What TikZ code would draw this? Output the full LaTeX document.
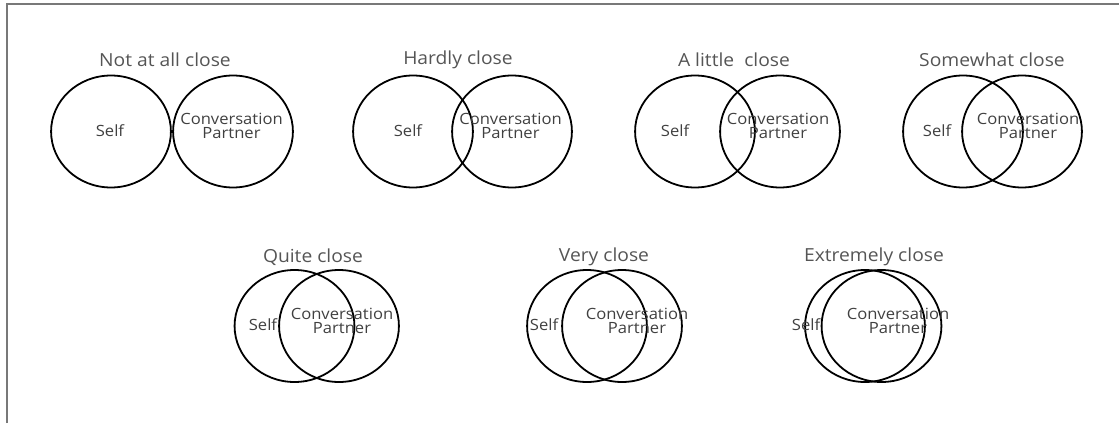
\documentclass[tikz,border=0pt]{standalone}
\usepackage{fontspec}
\setmainfont{Open Sans}
\usepackage{tikz}
\definecolor{labelgray}{RGB}{64,64,64}
\definecolor{titlegray}{RGB}{85,85,85}
\definecolor{framegray}{RGB}{120,120,120}

\begin{document}
\begin{tikzpicture}[x=1pt, y=-1pt,
    ring/.style={circle, draw=black, line width=1.8pt, minimum size=112pt, inner sep=0pt, xscale=1.07},
    lbl/.style={text=labelgray, font=\fontsize{15.5}{14.5}\selectfont, align=center, inner sep=0pt, xscale=1.07},
    ttl/.style={text=titlegray, font=\fontsize{18}{20}\selectfont, inner sep=0pt, xscale=1.07}]
    \useasboundingbox (0,0) rectangle (1119,423);

    % Frame (top and left edge only)
    \coordinate (fbot) at (7,423);
    \coordinate (fcorner) at (7,4);
    \coordinate (fright) at (1119,4);
    \draw[framegray, line width=1.2pt] (fbot) -- (fcorner) -- (fright);

    % Panel 1 (Not at all close)
    \node[ttl] (t1) at (165,60) {Not at all close};
    \node[ring] (s1) at (111,131.5) {};
    \node[ring] (p1) at (233,131.5) {};
    \node[lbl] (s1l) at (110,131) {Self};
    \node[lbl] (p1l) at (231.5,126) {Conversation\\Partner};

    % Panel 2 (Hardly close)
    \node[ttl] (t2) at (458,60) {Hardly close};
    \node[ring] (s2) at (413,131.5) {};
    \node[ring] (p2) at (512,131.5) {};
    \node[lbl] (s2l) at (408,131) {Self};
    \node[lbl] (p2l) at (510.5,126) {Conversation\\Partner};

    % Panel 3 (A little close)
    \node[ttl] (t3) at (734,60) {A little\ \ close};
    \node[ring] (s3) at (695,131.5) {};
    \node[ring] (p3) at (780,131.5) {};
    \node[lbl] (s3l) at (675,131) {Self};
    \node[lbl] (p3l) at (778,126) {Conversation\\Partner};

    % Panel 4 (Somewhat close)
    \node[ttl] (t4) at (992,60) {Somewhat close};
    \node[ring] (s4) at (963,131.5) {};
    \node[ring] (p4) at (1022,131.5) {};
    \node[lbl] (s4l) at (937,131) {Self};
    \node[lbl] (p4l) at (1028,126) {Conversation\\Partner};

    % Panel 5 (Quite close)
    \node[ttl] (t5) at (313,257) {Quite close};
    \node[ring] (s5) at (294.5,326) {};
    \node[ring] (p5) at (339,326) {};
    \node[lbl] (s5l) at (263,325) {Self};
    \node[lbl] (p5l) at (342,321) {Conversation\\Partner};

    % Panel 6 (Very close)
    \node[ttl] (t6) at (604,257) {Very close};
    \node[ring] (s6) at (587,326) {};
    \node[ring] (p6) at (622,326) {};
    \node[lbl] (s6l) at (544,325) {Self};
    \node[lbl] (p6l) at (637,321) {Conversation\\Partner};

    % Panel 7 (Extremely close)
    \node[ttl] (t7) at (874,257) {Extremely close};
    \node[ring] (s7) at (865,326) {};
    \node[ring] (p7) at (881.5,326) {};
    \node[lbl] (s7l) at (806,325) {Self};
    \node[lbl] (p7l) at (898,321) {Conversation\\Partner};
\end{tikzpicture}
\end{document}
